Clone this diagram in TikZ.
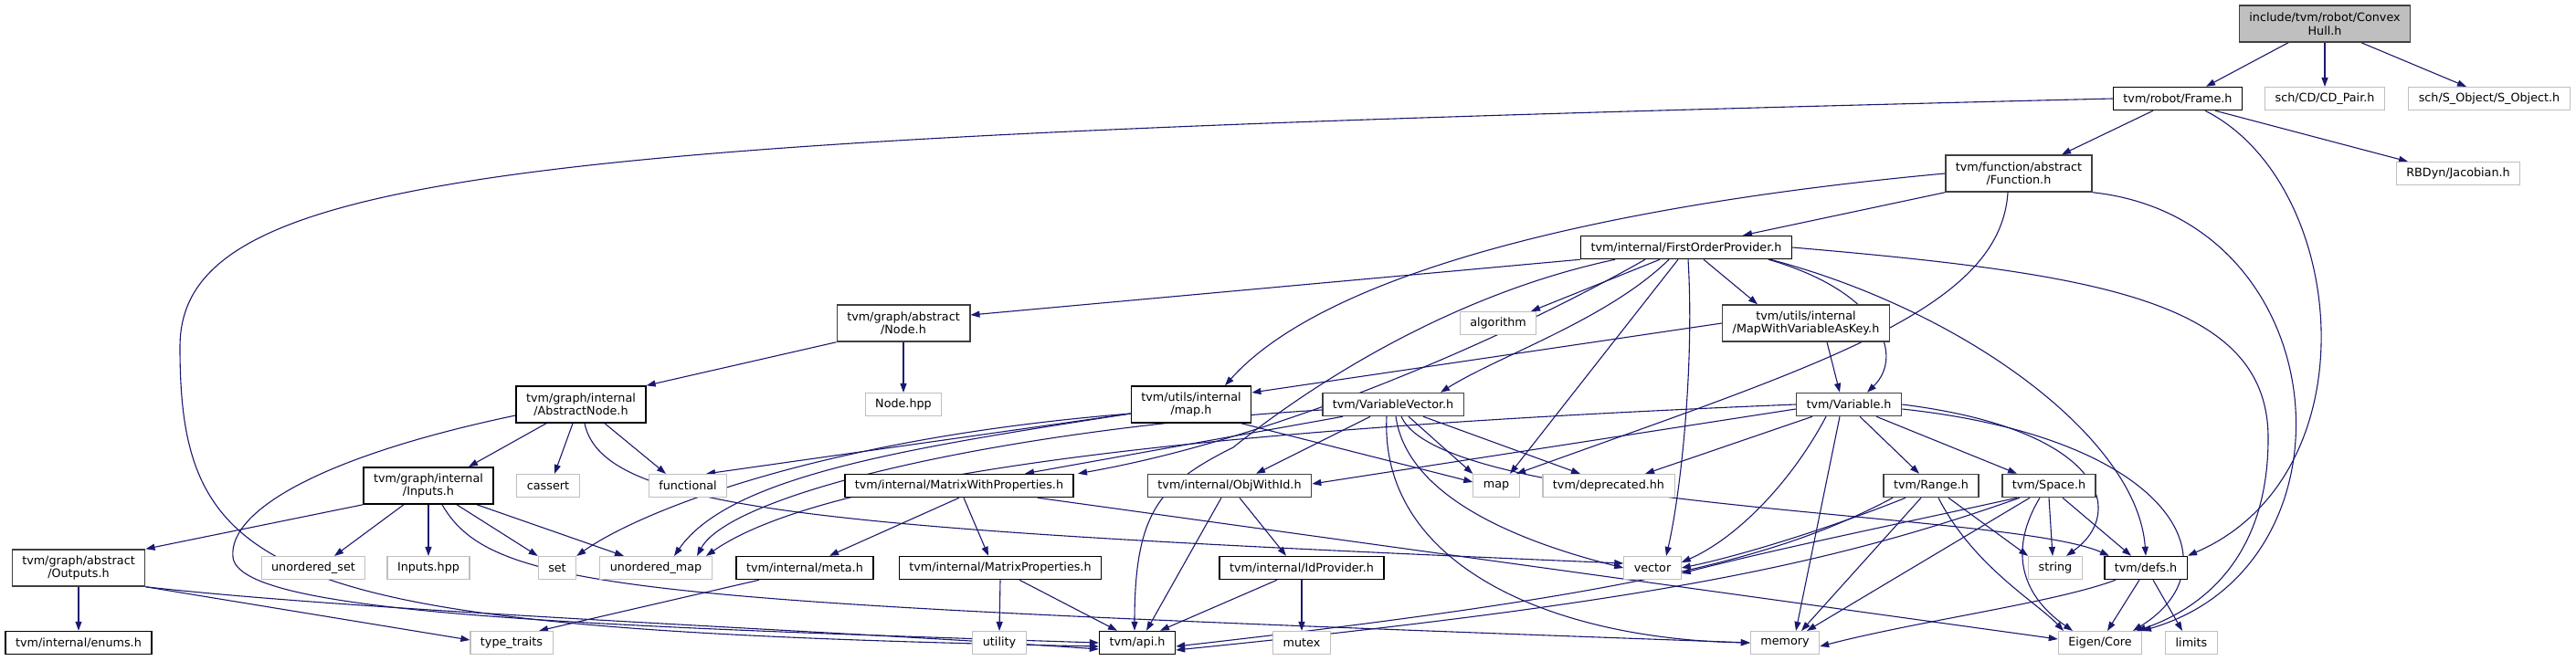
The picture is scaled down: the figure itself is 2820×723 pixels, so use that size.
\documentclass[tikz,border=0pt]{standalone}
\usepackage{fontspec}
\newfontfamily\dejavu{DejaVu Sans}
\usepackage{tikz}
\usetikzlibrary{arrows.meta,backgrounds}
\definecolor{edgeblue}{RGB}{25,25,112}
\definecolor{rootgray}{RGB}{191,191,191}
\definecolor{darkline}{RGB}{64,64,64}
\definecolor{extgray}{RGB}{191,191,191}

\begin{document}
\begin{tikzpicture}[x=1pt,y=-1pt,
  hdr/.style={draw=black, line width=1.5pt, fill=white, inner xsep=11pt, inner ysep=0pt,
    minimum height=25pt, align=center, font=\dejavu\fontsize{12.75pt}{14.5pt}\selectfont},
  hdrg/.style={hdr, draw=darkline},
  ext/.style={hdr, draw=extgray, line width=1.1pt},
  root/.style={hdrg, fill=rootgray, minimum height=40pt},
  two/.style={minimum height=40pt},
  dep/.style={draw=edgeblue, line width=1.1pt, -{Triangle[length=10pt,width=7pt]}}
]
  \useasboundingbox (0,0) rectangle (2820,723);

  \node[root] (hull) at (2545,26) {include/tvm/robot/Convex\\Hull.h};
  \node[hdr] (frame) at (2384,108) {tvm/robot/Frame.h};
  \node[ext] (cdpair) at (2545,108) {sch/CD/CD\_Pair.h};
  \node[ext] (sobject) at (2725,108) {sch/S\_Object/S\_Object.h};
  \node[hdrg,two] (func) at (2210,190) {tvm/function/abstract\\/Function.h};
  \node[ext] (jacobian) at (2691,190) {RBDyn/Jacobian.h};
  \node[hdr] (fop) at (1846,271) {tvm/internal/FirstOrderProvider.h};
  \node[ext] (algo) at (1640,354) {algorithm};
  \node[hdrg,two] (mapvar) at (1977,354) {tvm/utils/internal\\/MapWithVariableAsKey.h};
  \node[hdrg,two] (gnode) at (989,354) {tvm/graph/abstract\\/Node.h};
  \node[ext] (nodehpp) at (989,443) {Node.hpp};
  \node[hdr,two] (umap) at (1304,443) {tvm/utils/internal\\/map.h};
  \node[hdrg] (varvec) at (1525,443) {tvm/VariableVector.h};
  \node[hdrg] (variable) at (2024,443) {tvm/Variable.h};
  \node[hdr,two] (absnode) at (636,443) {tvm/graph/internal\\/AbstractNode.h};
  \node[hdr,two] (inputs) at (469,532) {tvm/graph/internal\\/Inputs.h};
  \node[ext] (cassert) at (600,532) {cassert};
  \node[ext] (functional) at (753,532) {functional};
  \node[hdr] (mwp) at (1050,532) {tvm/internal/MatrixWithProperties.h};
  \node[hdrg] (objid) at (1346,532) {tvm/internal/ObjWithId.h};
  \node[ext] (stdmap) at (1638,532) {map};
  \node[ext] (deprecated) at (1761,532) {tvm/deprecated.hh};
  \node[hdrg] (range) at (2114,532) {tvm/Range.h};
  \node[hdrg] (space) at (2243,532) {tvm/Space.h};
  \node[hdrg,two] (outputs) at (86,622) {tvm/graph/abstract\\/Outputs.h};
  \node[ext] (uset) at (343,622) {unordered\_set};
  \node[ext] (inputshpp) at (469,622) {Inputs.hpp};
  \node[ext] (stdset) at (610,622) {set};
  \node[ext] (stdumap) at (718,622) {unordered\_map};
  \node[hdr] (meta) at (881,622) {tvm/internal/meta.h};
  \node[hdr] (mprops) at (1095,622) {tvm/internal/MatrixProperties.h};
  \node[hdr] (idprov) at (1425,622) {tvm/internal/IdProvider.h};
  \node[ext] (vector) at (1809,622) {vector};
  \node[ext] (string) at (2250,622) {string};
  \node[hdr] (defs) at (2349,622) {tvm/defs.h};
  \node[hdr] (enums) at (86,704) {tvm/internal/enums.h};
  \node[ext] (typetraits) at (560,704) {type\_traits};
  \node[ext] (utility) at (1094,704) {utility};
  \node[hdr] (api) at (1245,704) {tvm/api.h};
  \node[ext] (mutex) at (1425,704) {mutex};
  \node[ext] (memory) at (1954,704) {memory};
  \node[ext] (eigen) at (2299,704) {Eigen/Core};
  \node[ext] (limits) at (2399,704) {limits};

  \begin{scope}[on background layer]
    \draw[dep] ([xshift=-40pt]hull.south) -- ([xshift=31pt]frame.north);
    \draw[dep] (hull.south) -- (cdpair.north);
    \draw[dep] ([xshift=40pt]hull.south) -- ([xshift=-25pt]sobject.north);

    \draw[dep] ([xshift=-27pt]frame.south) -- ([xshift=47pt]func.north);
    \draw[dep] ([xshift=41pt]frame.south) -- ([xshift=-55pt]jacobian.north);
    \draw[dep] ([xshift=30pt]frame.south) .. controls (2570,200) and (2600,520) .. (defs.north east);
    \draw[dep] (frame.west) .. controls (600,150) and (197,180) .. (197,380)
      .. controls (197,640) and (300,690) .. ([yshift=-4pt]api.west);

    \draw[dep] (func.south west) -- ([xshift=62pt]fop.north);
    \draw[dep] (func.west) .. controls (1750,225) and (1450,300) .. ([xshift=37pt]umap.north);
    \draw[dep] ([xshift=-12pt]func.south) .. controls (2190,340) and (1990,400) .. ([xshift=22pt]stdmap.north);
    \draw[dep] (func.south east) .. controls (2560,240) and (2590,620) .. ([xshift=46pt]eigen.north);

    \draw[dep] (fop.south west) -- ([yshift=9pt]gnode.east);
    \draw[dep] ([xshift=-29pt]fop.south) -- ([xshift=36pt]algo.north);
    \draw[dep] ([xshift=-19pt]fop.south) .. controls (1760,350) and (1640,390) .. ([xshift=52pt]varvec.north);
    \draw[dep] ([xshift=-9pt]fop.south) -- ([xshift=15pt]stdmap.north);
    \draw[dep] ([xshift=2pt]fop.south) .. controls (1855,400) and (1840,540) .. ([xshift=15pt]vector.north);
    \draw[dep] ([xshift=19pt]fop.south) -- ([xshift=-53pt]mapvar.north);
    \draw[dep] ([xshift=-78pt]fop.south) .. controls (1600,320) and (1450,410) .. (1350,490)
      .. controls (1270,530) and (1242,560) .. ([xshift=-3pt]api.north);
    \draw[dep] ([xshift=-45pt]fop.south) .. controls (1650,370) and (1400,480) .. ([xshift=130pt]mwp.north);
    \draw[dep] ([xshift=90pt]fop.south) .. controls (2060,320) and (2085,390) .. ([xshift=20pt]variable.north);
    \draw[dep] ([xshift=92pt]fop.south) .. controls (2150,340) and (2340,480) .. (defs.north);
    \draw[dep] (fop.east) .. controls (2300,300) and (2483,330) .. (2483,480)
      .. controls (2483,620) and (2400,670) .. ([xshift=40pt]eigen.north);

    \draw[dep] (mapvar.west) -- ([yshift=13pt]umap.east);
    \draw[dep] ([xshift=23pt]mapvar.south) -- ([xshift=-10pt]variable.north);

    \draw[dep] (gnode.south west) -- (absnode.north east);
    \draw[dep] (gnode.south) -- (nodehpp.north);

    \draw[dep] ([xshift=-38pt]absnode.south) -- ([xshift=44pt]inputs.north);
    \draw[dep] ([xshift=-9pt]absnode.south) -- ([xshift=7pt]cassert.north);
    \draw[dep] ([xshift=26pt]absnode.south) -- ([xshift=-24pt]functional.north);
    \draw[dep] ([xshift=4pt]absnode.south) .. controls (660,560) and (900,580) .. ([yshift=5pt]vector.west);
    \draw[dep] ([yshift=-12pt]absnode.west) .. controls (350,500) and (250,560) .. (255,610)
      .. controls (260,670) and (600,685) .. (api.west);

    \draw[dep] (inputs.south west) -- (outputs.north east);
    \draw[dep] ([xshift=-27pt]inputs.south) -- ([xshift=23pt]uset.north);
    \draw[dep] (inputs.south) -- (inputshpp.north);
    \draw[dep] ([xshift=31pt]inputs.south) -- (stdset.north west);
    \draw[dep] ([xshift=53pt]inputs.south) -- ([xshift=-35pt]stdumap.north);
    \draw[dep] ([xshift=15pt]inputs.south) .. controls (540,650) and (700,660) .. (memory.west);

    \draw[dep] (outputs.south) -- (enums.north);
    \draw[dep] (outputs.south east) -- ([yshift=3pt]typetraits.west);
    \draw[dep] (outputs.south east) .. controls (400,670) and (900,690) .. ([yshift=-7pt]api.west);

    \draw[dep] ([yshift=-10pt]umap.west) -- ([xshift=20pt]functional.north);
    \draw[dep] ([yshift=-10pt]umap.west) .. controls (1000,490) and (800,520) .. ([xshift=20pt]stdumap.north);
    \draw[dep] ([yshift=-10pt]umap.west) .. controls (900,480) and (700,560) .. (stdset.north east);
    \draw[dep] ([xshift=55pt]umap.south) -- ([yshift=4pt]stdmap.west);

    \draw[dep] ([xshift=-25pt]varvec.south) -- ([xshift=29pt]objid.north);
    \draw[dep] ([xshift=17pt]varvec.south) -- (stdmap.north west);
    \draw[dep] ([xshift=33pt]varvec.south) -- ([xshift=-31pt]deprecated.north);
    \draw[dep] ([xshift=3pt]varvec.south) .. controls (1540,540) and (1650,590) .. (vector.west);
    \draw[dep] ([xshift=-7pt]varvec.south) .. controls (1510,620) and (1700,700) .. (memory.west);
    \draw[dep] ([xshift=9pt]varvec.south) .. controls (1580,560) and (2200,560) .. ([xshift=-40pt]defs.north);
    \draw[dep] ([xshift=-55pt]varvec.south) -- ([xshift=72pt]mwp.north);
    \draw[dep] ([yshift=-6pt]varvec.west) .. controls (1100,470) and (800,540) .. ([xshift=45pt]stdumap.north);

    \draw[dep] ([yshift=-5pt]variable.west) -- ([yshift=2pt]objid.east);
    \draw[dep] ([xshift=-40pt]variable.south) -- ([xshift=40pt]deprecated.north);
    \draw[dep] ([xshift=12pt]variable.south) -- ([xshift=-13pt]range.north);
    \draw[dep] ([xshift=30pt]variable.south) -- ([xshift=-35pt]space.north);
    \draw[dep] ([xshift=-25pt]variable.south) .. controls (1960,530) and (1900,590) .. ([yshift=6pt]vector.east);
    \draw[dep] ([xshift=-10pt]variable.south) -- ([xshift=12pt]memory.north);
    \draw[dep] (variable.east) .. controls (2300,470) and (2330,560) .. ([xshift=12pt]string.north);
    \draw[dep] ([yshift=-5pt]variable.east) .. controls (2380,480) and (2450,620) .. ([xshift=36pt]eigen.north);
    \draw[dep] (variable.west) .. controls (1300,470) and (900,520) .. ([xshift=55pt]stdumap.north);

    \draw[dep] (mwp.south) -- ([xshift=27pt]meta.north);
    \draw[dep] ([xshift=5pt]mwp.south) -- ([xshift=-13pt]mprops.north);
    \draw[dep] ([xshift=86pt]mwp.south) -- ([yshift=4pt]eigen.west);
    \draw[dep] ([xshift=-50pt]meta.south) -- ([xshift=30pt]typetraits.north);
    \draw[dep] (mprops.south) -- (utility.north);
    \draw[dep] ([xshift=21pt]mprops.south) -- ([xshift=-22pt]api.north);
    \draw[dep] ([xshift=-9pt]objid.south) -- ([xshift=10pt]api.north);
    \draw[dep] ([xshift=11pt]objid.south) -- ([xshift=-17pt]idprov.north);
    \draw[dep] ([xshift=-27pt]idprov.south) -- ([xshift=25pt]api.north);
    \draw[dep] (idprov.south) -- (mutex.north);

    \draw[dep] ([xshift=-28pt]range.south) .. controls (2000,580) and (1900,610) .. (vector.east);
    \draw[dep] ([xshift=-42pt]range.south) .. controls (1950,610) and (1800,650) .. ([yshift=-4pt]api.east);
    \draw[dep] ([xshift=-11pt]range.south) -- ([xshift=18pt]memory.north);
    \draw[dep] ([xshift=19pt]range.south) -- (string.north west);
    \draw[dep] ([xshift=8pt]range.south) .. controls (2160,620) and (2230,660) .. ([xshift=-40pt]eigen.north);

    \draw[dep] ([xshift=-35pt]space.south) .. controls (2050,580) and (1950,600) .. ([yshift=-6pt]vector.east);
    \draw[dep] ([xshift=-32pt]space.south) .. controls (2000,620) and (1800,660) .. ([yshift=-8pt]api.east);
    \draw[dep] ([xshift=-21pt]space.south) -- ([xshift=24pt]memory.north);
    \draw[dep] (space.south) -- ([xshift=-3pt]string.north);
    \draw[dep] ([xshift=15pt]space.south) -- ([xshift=-16pt]defs.north);
    \draw[dep] ([xshift=-10pt]space.south) .. controls (2200,600) and (2210,650) .. ([xshift=-30pt]eigen.north);

    \draw[dep] ([xshift=-33pt]defs.south) .. controls (2250,660) and (2100,680) .. ([yshift=-4pt]memory.east);
    \draw[dep] ([xshift=-7pt]defs.south) -- ([xshift=8pt]eigen.north);
    \draw[dep] ([xshift=8pt]defs.south) -- ([xshift=-10pt]limits.north);
  \end{scope}
\end{tikzpicture}
\end{document}
